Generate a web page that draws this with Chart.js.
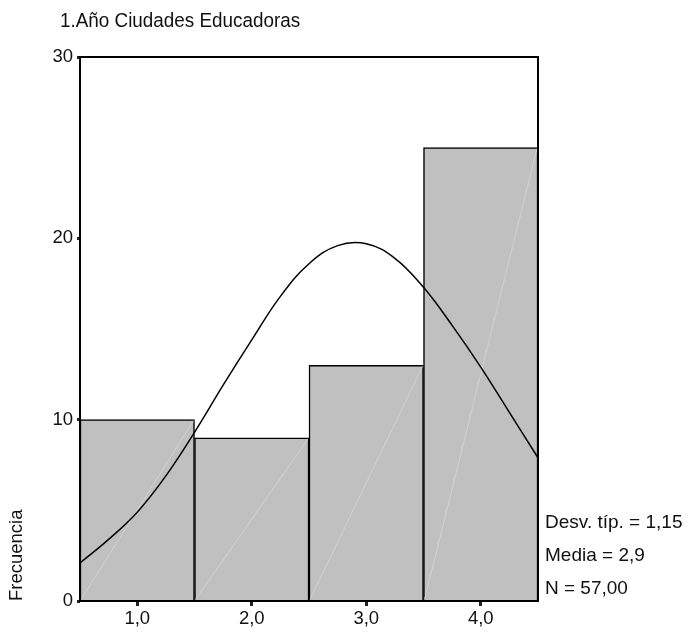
<!DOCTYPE html>
<html>
<head>
<meta charset="utf-8">
<script src="https://cdn.jsdelivr.net/npm/chart.js@4.4.1/dist/chart.umd.min.js"></script>
<style>
  html, body { margin: 0; padding: 0; background: #fff; }
  #wrap { width: 689px; height: 634px; }
</style>
</head>
<body>
<div id="wrap"><canvas id="histChart"></canvas></div>
<script>
// histogram bins (centres) and counts
const binCenters = [1, 2, 3, 4];
const counts = [10, 9, 13, 25];
const xTicks = [1, 2, 3, 4];
const yTicks = [0, 10, 20, 30];

// normal curve
const curveX = [0.5, 0.75, 1.0, 1.25, 1.5, 1.75, 2.0, 2.25, 2.5, 2.75, 3.0, 3.25, 3.5, 3.75, 4.0, 4.25, 4.5];
const curveY = [2.1, 3.4, 4.9, 6.9, 9.3, 11.9, 14.4, 16.8, 18.6, 19.6, 19.7, 18.9, 17.3, 15.2, 12.9, 10.4, 7.9];

const titleText = '1.Año Ciudades Educadoras';
const statLines = ['Desv. típ. = 1,15', 'Media = 2,9', 'N = 57,00'];

const FONT = '"Liberation Sans", Arial, sans-serif';

const extras = {
    id: 'extras',
    afterDatasetDraw(chart, args) {
        if (args.index !== 1) return;
        // faint diagonals inside each bar
        const ctx = chart.ctx;
        ctx.save();
        ctx.strokeStyle = '#d2d2d2';
        ctx.lineWidth = 1;
        args.meta.data.forEach(bar => {
            const l = bar.x - bar.width / 2 + 1, r = bar.x + bar.width / 2 - 1;
            ctx.beginPath();
            ctx.moveTo(l, bar.base - 1);
            ctx.lineTo(r, bar.y + 1);
            ctx.stroke();
        });
        ctx.restore();
    },
    afterDraw(chart) {
        const ctx = chart.ctx;
        const a = chart.chartArea;
        ctx.save();
        ctx.strokeStyle = '#000';
        ctx.lineWidth = 2;
        ctx.strokeRect(a.left, a.top, a.right - a.left, a.bottom - a.top);

        ctx.fillStyle = '#111';
        ctx.textBaseline = 'alphabetic';
        ctx.textAlign = 'left';
        ctx.save();
        ctx.translate(60, 27);
        ctx.scale(0.92, 1);
        ctx.font = '20.5px ' + FONT;
        ctx.fillText(titleText, 0, 0);
        ctx.restore();

        ctx.font = '19px ' + FONT;
        statLines.forEach((t, i) => ctx.fillText(t, a.right + 7, 528 + i * 33));
        ctx.restore();
    }
};

new Chart(document.getElementById('histChart'), {
    data: {
        datasets: [
            {
                type: 'line',
                data: curveX.map((x, i) => ({ x: x, y: curveY[i] })),
                borderColor: '#000',
                borderWidth: 1.5,
                pointRadius: 0,
                tension: 0.4,
                fill: false,
                order: 0
            },
            {
                type: 'bar',
                data: binCenters.map((x, i) => ({ x: x, y: counts[i] })),
                backgroundColor: '#c0c0c0',
                borderColor: '#000',
                borderWidth: 1.5,
                barPercentage: 1,
                categoryPercentage: 1,
                order: 1
            }
        ]
    },
    options: {
        responsive: true,
        maintainAspectRatio: false,
        animation: false,
        layout: { padding: { top: 57, right: 151, left: 0, bottom: 0 } },
        plugins: {
            legend: { display: false },
            tooltip: { enabled: false },
            title: { display: false }
        },
        scales: {
            x: {
                type: 'linear',
                min: 0.5,
                max: 4.5,
                offset: false,
                afterBuildTicks: s => { s.ticks = xTicks.map(v => ({ value: v })); },
                afterFit: s => { s.height = 33; },
                border: { display: false },
                grid: { offset: false, drawOnChartArea: false, drawTicks: true, tickLength: 5, tickWidth: 3, tickColor: '#222' },
                ticks: {
                    color: '#111',
                    padding: 2,
                    maxRotation: 0,
                    font: { family: FONT, size: 18.5 },
                    callback: v => v.toFixed(1).replace('.', ',')
                }
            },
            y: {
                min: 0,
                max: 30,
                afterBuildTicks: s => { s.ticks = yTicks.map(v => ({ value: v })); },
                afterFit: s => { s.width = 80; },
                border: { display: false },
                grid: { drawOnChartArea: false, drawTicks: true, tickLength: 3, tickWidth: 3, tickColor: '#222' },
                ticks: {
                    color: '#111',
                    padding: 4,
                    font: { family: FONT, size: 18.5 }
                },
                title: {
                    display: true,
                    text: 'Frecuencia',
                    align: 'start',
                    color: '#111',
                    padding: { top: 6, bottom: 0 },
                    font: { family: FONT, size: 18.5 }
                }
            }
        }
    },
    plugins: [extras]
});
</script>
</body>
</html>
